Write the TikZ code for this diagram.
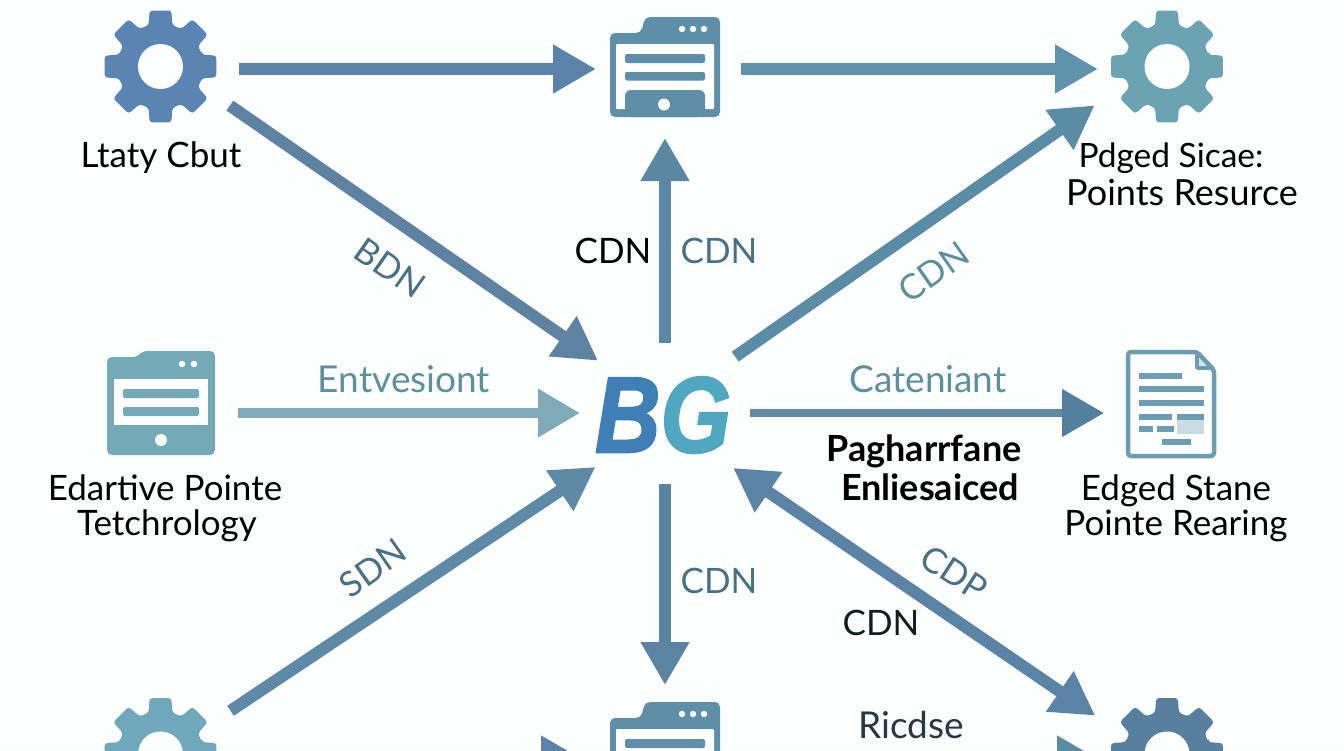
\documentclass[tikz,border=0pt]{standalone}
\usepackage{fontspec}
\setmainfont{Lato}
\newfontfamily\logofont[BoldItalicFeatures={FakeBold=2}]{Liberation Sans}
\usetikzlibrary{arrows.meta,calc}
\definecolor{paper}{HTML}{FDFEFE}
\definecolor{gearA}{HTML}{5A85B2}
\definecolor{gearB}{HTML}{6BA3B2}
\definecolor{gearC}{HTML}{6FA8BA}
\definecolor{gearD}{HTML}{587F9E}
\definecolor{winA}{HTML}{5F8FA8}
\definecolor{winB}{HTML}{74A9B8}
\definecolor{docA}{HTML}{6C9DB2}
\definecolor{labA}{HTML}{4A7085}
\definecolor{labB}{HTML}{5E8F9C}
\definecolor{cA}{HTML}{5B82A8}
\definecolor{cB}{HTML}{5F93AB}
\definecolor{cC}{HTML}{5E83A2}
\definecolor{cD}{HTML}{5A87A2}
\definecolor{cE}{HTML}{5A8CA6}
\definecolor{cF}{HTML}{80AAB8}
\definecolor{cG}{HTML}{5F8CA3}
\definecolor{cGh}{HTML}{557F9F}
\definecolor{cH}{HTML}{5E8AA6}
\definecolor{cI}{HTML}{5B84A3}
\definecolor{cJ}{HTML}{5A83A5}
\definecolor{logoB}{HTML}{3F7FB5}
\definecolor{logoG}{HTML}{4FA8C0}
\tikzset{
  hubnode/.style={circle,inner sep=0pt,outer sep=0pt,minimum size=170pt},
  gearnode/.style={circle,inner sep=0pt,outer sep=0pt,minimum size=#1},
  conn/.style={line width=12pt,-{Triangle[length=43pt,width=46pt]},color=#1},
  connthin/.style={line width=10pt,-{Triangle[length=42pt,width=46pt]},color=#1},
  lab/.style={inner sep=0pt,font=\fontsize{35}{35}\selectfont,text=#1},
  wide/.style={inner sep=0pt,font=\fontsize{37}{37}\selectfont,text=#1},
  boldlab/.style={inner sep=0pt,anchor=base,font=\fontsize{36}{36}\selectfont\bfseries,text=black},
}
\newcommand{\gearicon}[3]{%
  \begin{scope}[shift={(#1,#2)}]
    \fill[#3,rounded corners=3pt] (-16:43)
      \foreach \a in {0,45,...,315} { -- ({\a-16}:43) -- ({\a-11}:57) -- ({\a+11}:57) -- ({\a+16}:43) } -- cycle;
    \fill[paper] (0,0) circle (22.5);
  \end{scope}}
\newcommand{\windowicon}[2]{%
  \begin{scope}[shift={(0,#1)}]
    \fill[#2,rounded corners=5pt] (610,117) -- (610,33) -- (641,33) -- (645,17) -- (720,17) -- (720,117) -- cycle;
    \fill[paper,rounded corners=1pt] (616,44) rectangle (714,109);
    \fill[#2,rounded corners=2pt] (625,54) rectangle (705,63);
    \fill[#2,rounded corners=2pt] (625,72) rectangle (705,80.5);
    \fill[#2,rounded corners=6pt] (625,117) -- (625,90) -- (705,90) -- (705,117) -- cycle;
    \fill[paper] (664,104.5) circle (6);
    \foreach \x in {682,693,704} \fill[paper] (\x,29) circle (3.2);
  \end{scope}}
\begin{document}
\begin{tikzpicture}[x=1pt,y=-1pt]
\useasboundingbox (0,0) rectangle (1344,750);
\fill[paper] (0,0) rectangle (1344,750);
% icon outline nodes
\node[hubnode] (hub) at (665,413) {};
\node[gearnode=156pt] (gtl) at (161,69) {};
\node[gearnode=160pt] (gtr) at (1166,69) {};
\node[gearnode=138pt] (wt) at (665,69) {};
\node[gearnode=154pt] (wl) at (161,413) {};
\node[gearnode=134pt] (dr) at (1171,413) {};
\node[gearnode=160pt] (gbl) at (160,760) {};
\node[gearnode=150pt] (wb) at (665,760) {};
\node[gearnode=160pt] (gbr) at (1166,760) {};
% icons
\gearicon{160.5}{66.5}{gearA}
\gearicon{1167}{66.5}{gearB}
\gearicon{160.5}{754}{gearC}
\gearicon{1167}{754}{gearD}
\windowicon{0}{winA}
\windowicon{685}{winA}
% left window
\fill[winB,rounded corners=5pt] (107,455) -- (107,357) -- (138,357) -- (142,351) -- (215,351) -- (215,455) -- cycle;
\fill[paper] (114,379) rectangle (208,425);
\fill[winB,rounded corners=2pt] (123,389) rectangle (199,398);
\fill[winB,rounded corners=2pt] (123,407) rectangle (199,416);
\fill[paper] (161,440) circle (6);
\foreach \x in {182,194} \fill[paper] (\x,364) circle (3.3);
% document
\fill[docA!30!paper] (1197,352) -- (1214,368) -- (1197,368) -- cycle;
\draw[docA,line width=4.5pt,line join=round,rounded corners=3pt] (1128,352) -- (1197,352) -- (1214,370) -- (1214,456) -- (1128,456) -- cycle;
\draw[docA,line width=3.5pt,line join=round] (1197,352) -- (1197,368) -- (1214,368);
\fill[docA!35!paper] (1177,420) rectangle (1204,434);
\foreach \xa/\xb/\yy in {1139/1182/376,1139/1204/389,1139/1204/403,1139/1172/417,1177/1204/417,1139/1153/429,1157/1174/429,1162/1191/442}
  \draw[docA,line width=5.5pt] (\xa,\yy) -- (\xb,\yy);
% connectors
\draw[conn=cA] (gtl) -- (wt);
\draw[conn=cB,shorten <=7pt,shorten >=-12pt] (wt) -- (gtr);
\draw[conn=cC] (gtl.-28) -- (hub.142);
\draw[conn=cD,shorten <=-15pt] (hub) -- (wt);
\draw[conn=cE,shorten <=5pt] (hub.39) -- (gtr.207);
\draw[connthin=cF] (wl) -- (hub);
\draw[line width=8pt,-{Triangle[length=42pt,width=46pt,color=cGh]},color=cG] (hub) -- (dr);
\draw[conn=cH,shorten <=6pt,shorten >=3pt] (gbl.35) -- (hub.218.6);
\draw[conn=cI,shorten <=-14pt] (hub) -- (wb);
\draw[line width=12pt,{Triangle[length=43pt,width=46pt]}-{Triangle[length=43pt,width=46pt]},color=cJ,shorten <=2.5pt,shorten >=3.5pt] (hub.-39) -- (gbr.148.2);
\draw[conn=cA,shorten >=6pt] (gbl) -- (wb);
\draw[conn=cE,shorten <=3pt,shorten >=-14pt] (wb) -- (gbr);
% hub text
\node[inner sep=0pt,xscale=0.84,font=\fontsize{108}{108}\selectfont\logofont\bfseries\itshape] (logo) at (663,415) {\textcolor{logoB}{B}\textcolor{logoG}{G}};
% labels
\node[lab=black,anchor=base] (t0) at (626,-6) {y};
\node[lab=black,anchor=base] (t1) at (161,167) {Ltaty Cbut};
\node[lab=black,anchor=base,font=\fontsize{33.5}{34}\selectfont] (t2) at (1171,167) {Pdged Sicae:};
\node[wide=black,anchor=base,font=\fontsize{36}{36}\selectfont] (t3) at (1182,205) {Points Resurce};
\node[lab=black,anchor=base] (t4) at (165,500) {Edartive Pointe};
\node[lab=black,anchor=base] (t5) at (167,535) {Tetchrology};
\node[lab=black,anchor=base] (t6) at (1176,500) {Edged Stane};
\node[lab=black,anchor=base] (t7) at (1176,535) {Pointe Rearing};
\node[lab=labA,rotate=-35] (l1) at (390,268) {BDN};
\node[lab=black,anchor=base] (l2) at (613,263) {CDN};
\node[lab=labA,anchor=base] (l3) at (719,263) {CDN};
\node[lab=labB,rotate=35] (l4) at (934,272) {CDN};
\node[wide=labB,anchor=base] (l5) at (404,392) {Entvesiont};
\node[wide=labB,anchor=base] (l6) at (928,392) {Cateniant};
\node[boldlab] (l7) at (924,461) {Pagharrfane};
\node[boldlab] (l8) at (930,500) {Enliesaiced};
\node[lab=labA,rotate=35] (l9) at (373,568) {SDN};
\node[lab=labA,anchor=base] (l10) at (719,593) {CDN};
\node[lab=labA,rotate=-33] (l11) at (954,573) {CDP};
\node[lab={black!75!labA},anchor=base] (l12) at (881,635) {CDN};
\node[wide={black!50!labA},anchor=base] (l13) at (911,738) {Ricdse};
\end{tikzpicture}
\end{document}
